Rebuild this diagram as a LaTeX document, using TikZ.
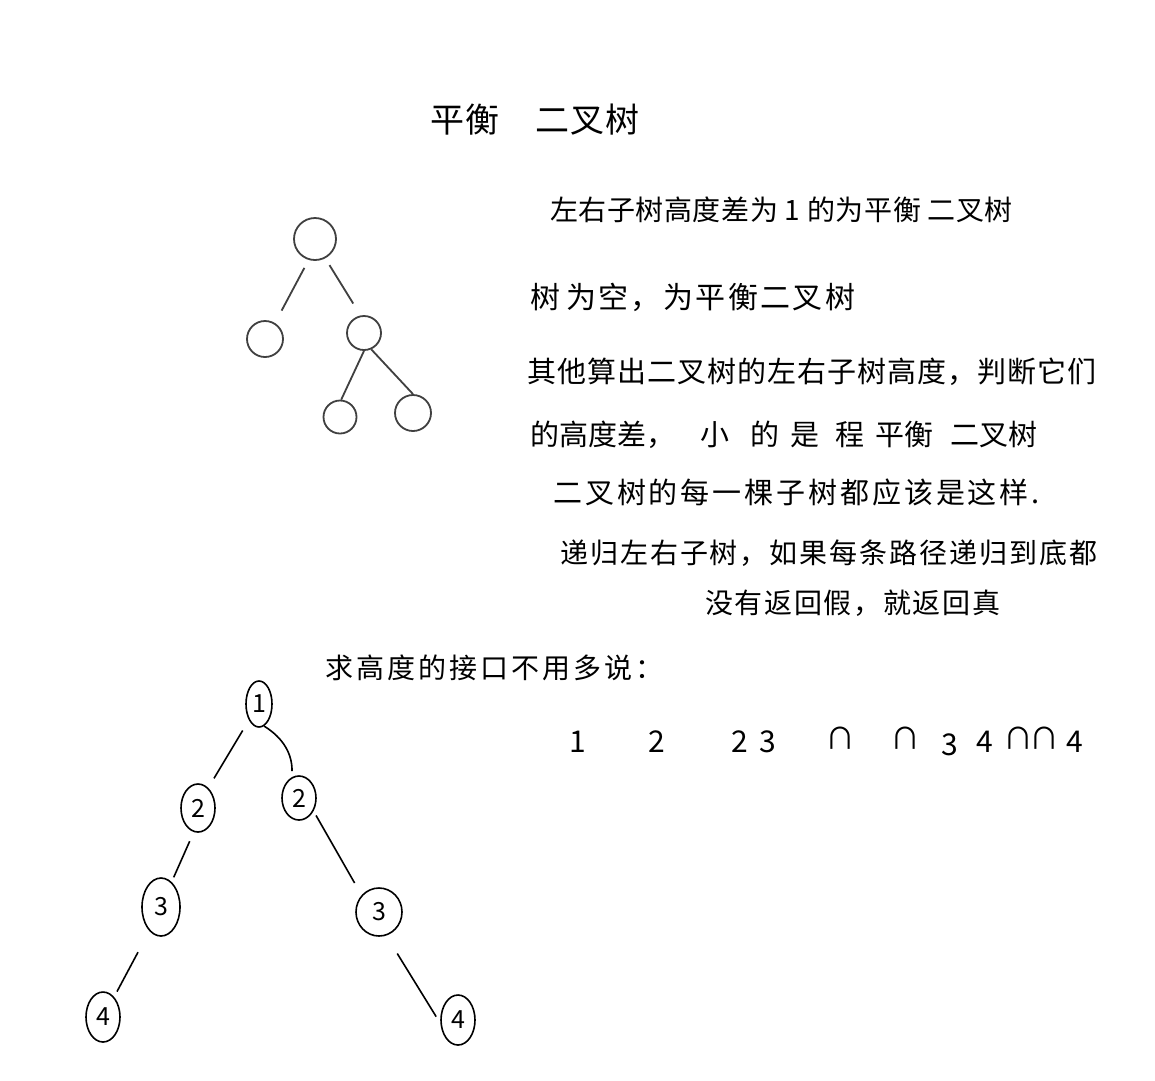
\documentclass[tikz,border=0pt]{standalone}
\usepackage{fontspec}
\newfontfamily\cjk{Noto Sans CJK SC}
\usetikzlibrary{shapes.geometric}
\newcommand\fsz[2]{\cjk\fontsize{#1}{#1}\selectfont\addfontfeature{LetterSpace=#2}}
\begin{document}
\begin{tikzpicture}[x=1pt,y=-1pt,
  txt/.style={anchor=west,inner sep=0pt},
  num/.style={inner sep=0pt,font=\cjk\fontsize{30}{30}\selectfont},
  pnode/.style={circle,draw=black!75,line width=1.8pt,inner sep=0pt},
  pedge/.style={draw=black!75,line width=1.8pt},
  hnode/.style={ellipse,draw,line width=1.6pt,inner sep=0pt,font=\cjk\fontsize{25}{25}\selectfont},
  hedge/.style={draw,line width=1.6pt}]
\useasboundingbox (0,0) rectangle (1155,1080);
\fill[white] (0,0) rectangle (1155,1080);

% top tree
\node[pnode,minimum size=42pt] (r) at (315,239) {};
\node[pnode,minimum size=36pt] (a) at (265,339) {};
\node[pnode,minimum size=34pt] (b) at (364,333) {};
\node[pnode,minimum size=33pt] (c) at (340,417) {};
\node[pnode,minimum size=36pt] (d) at (413,413) {};
\draw[pedge,shorten <=9pt,shorten >=14pt] (r.-107) -- (a.58);
\draw[pedge,shorten <=8pt,shorten >=14pt] (r.-62) -- (b.101);
\draw[pedge] (b.-90) -- (c.86);
\draw[pedge] (b.-66) -- (d.90);

% bottom tree
\node[hnode,minimum width=26pt,minimum height=46pt] (n1) at (259,704) {1};
\node[hnode,minimum width=34pt,minimum height=48pt] (n2l) at (198,808) {2};
\node[hnode,minimum width=34pt,minimum height=44pt] (n2r) at (299,798) {2};
\node[hnode,minimum width=38pt,minimum height=58pt] (n3l) at (161,907) {3};
\node[hnode,minimum width=46pt,minimum height=48pt] (n3r) at (379,912) {3};
\node[hnode,minimum width=34pt,minimum height=50pt] (n4l) at (103,1017) {4};
\node[hnode,minimum width=34pt,minimum height=50pt] (n4r) at (458,1020) {4};
\draw[hedge,shorten <=12pt,shorten >=11pt] (n1.238) -- (n2l.63);
\draw[hedge,shorten >=6pt] (n1.-77) to[bend left=30] (n2r.109);
\draw[hedge,shorten <=10pt,shorten >=5pt] (n2l.-100) -- (n3l.67);
\draw[hedge,shorten <=5pt,shorten >=14pt] (n2r.-42) -- (n3r.136);
\draw[hedge,shorten <=24pt,shorten >=6pt] (n3l.-116) -- (n4l.61);
\draw[hedge,shorten <=21pt,shorten >=8pt] (n3r.-73) -- (n4r.-169);

% texts
\node[txt,font=\fsz{34}{3}] (title) at (430,120) {平衡\hspace{36pt}二叉树};
\node[txt,font=\fsz{28}{2}] (l1) at (550,210) {左右子树高度差为 1 的为平衡 二叉树};
\node[txt,font=\fsz{30}{8}] (l2) at (530,297) {树\hspace{6pt}为空，为平衡二叉树};
\node[txt,font=\fsz{29}{3.5}] (l3) at (527,372) {其他算出二叉树的左右子树高度，判断它们};
\node[txt,font=\fsz{29}{0}] (l4) at (530,435) {的高度差，\hspace{25pt}小\hspace{21pt}的\hspace{11pt}是\hspace{16pt}程\hspace{11pt}平衡\hspace{17pt}二叉树};
\node[txt,font=\fsz{29}{10}] (l5) at (553,492) {二叉树的每一棵子树都应该是这样.};
\node[txt,font=\fsz{28}{7}] (l6) at (560,553) {递归左右子树，如果每条路径递归到底都};
\node[txt,font=\fsz{28}{6}] (l7) at (705,603) {没有返回假，就返回真};
\node[txt,font=\fsz{28}{11}] (l8) at (325,668) {求高度的接口不用多说：};

% sequence row
\node[num] (s1) at (578,742) {1};
\node[num] (s2) at (657,742) {2};
\node[num] (s3) at (740,742) {2};
\node[num] (s4) at (768,742) {3};
\node[num] (s5) at (840,738) {∩};
\node[num] (s6) at (905,738) {∩};
\node[num] (s7) at (950,745) {3};
\node[num] (s8) at (985,742) {4};
\node[num] (s9) at (1018,738) {∩};
\node[num] (s10) at (1044,738) {∩};
\node[num] (s11) at (1075,742) {4};
\end{tikzpicture}
\end{document}
